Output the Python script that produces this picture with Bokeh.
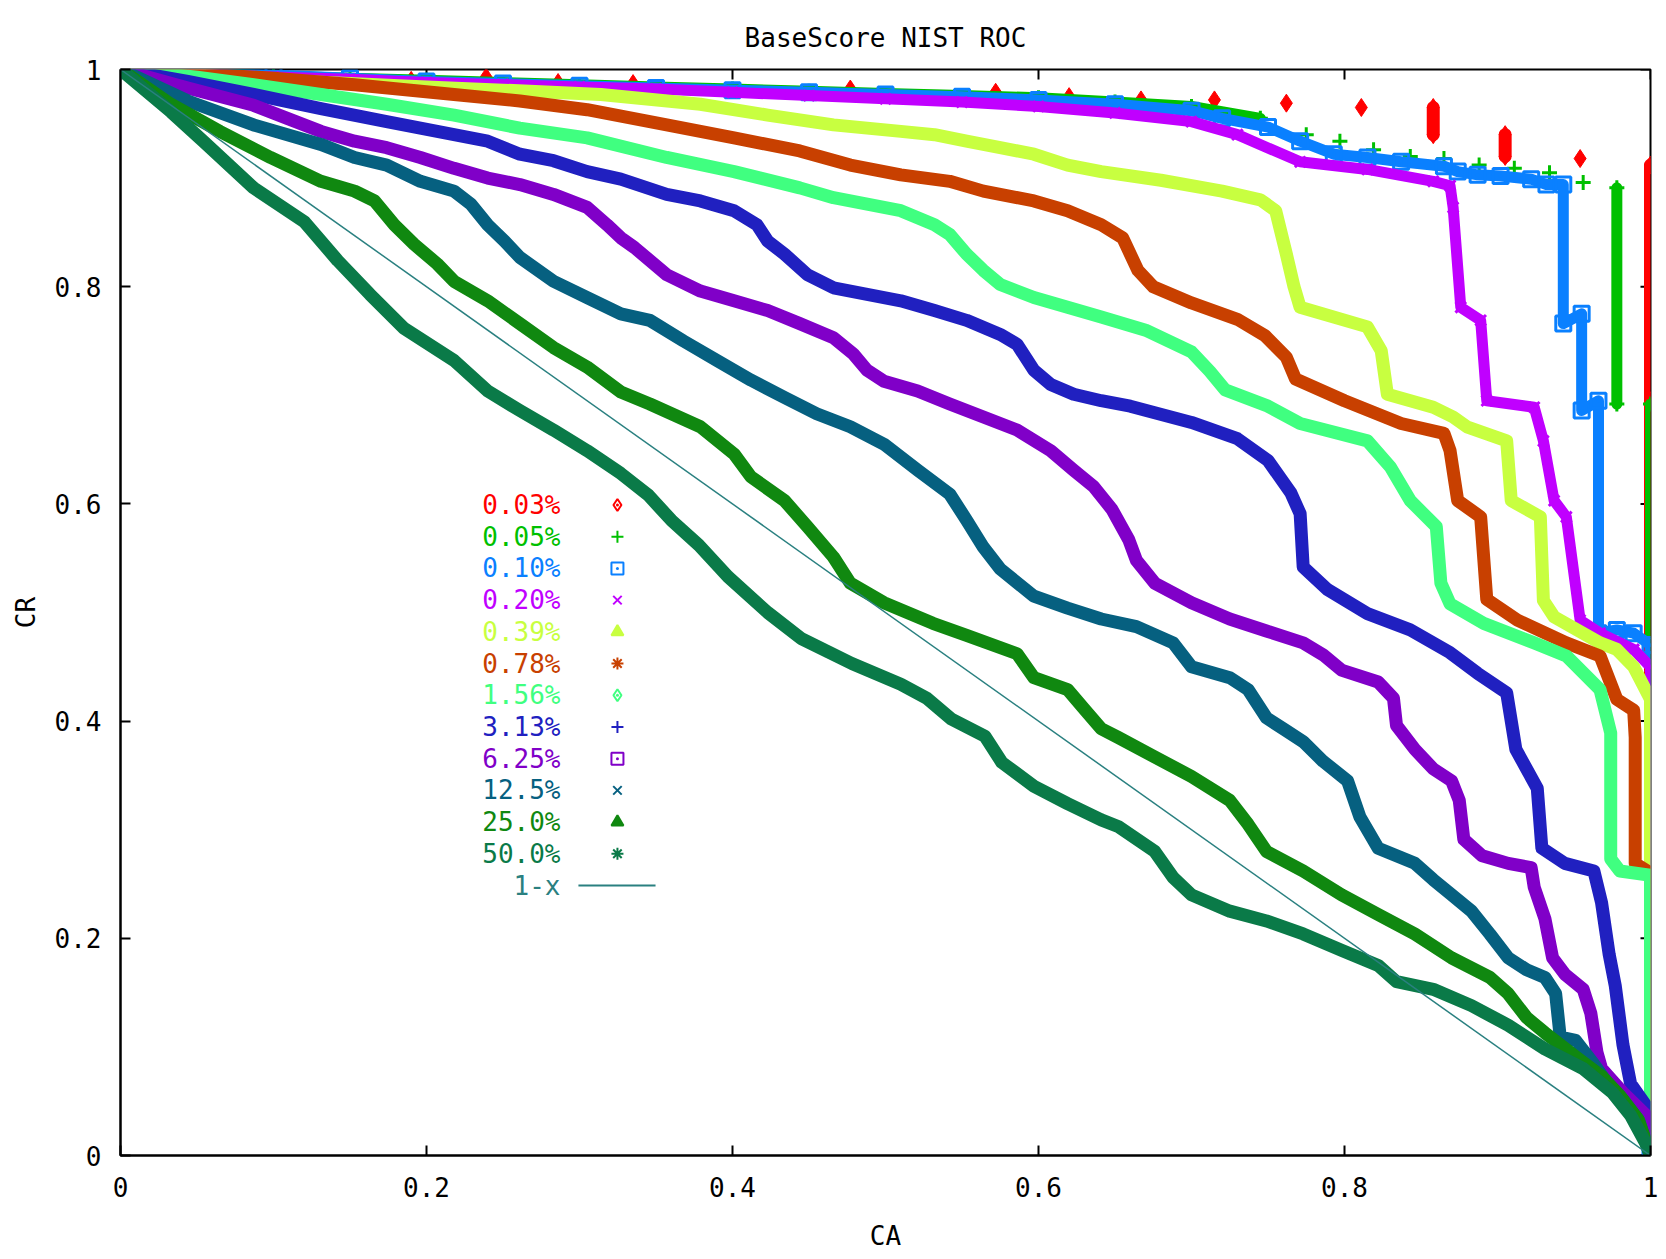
import math
from bokeh.plotting import figure
from bokeh.models import Range1d, FixedTicker, PrintfTickFormatter, Title
from bokeh.core.properties import value
from bokeh.embed import file_html
from bokeh.resources import INLINE

nan = float("nan")
FONT = "DejaVu Sans Mono"
FS = "26px"

TITLE = "BaseScore NIST ROC"
X_LABEL = "CA"
Y_LABEL = "CR"
TICKS = [0, 0.2, 0.4, 0.6, 0.8, 1.0]

SERIES = ["0.03%", "0.05%", "0.10%", "0.20%", "0.39%", "0.78%",
          "1.56%", "3.13%", "6.25%", "12.5%", "25.0%", "50.0%"]
COLORS = ["#ff0000", "#00c000", "#0a80ff", "#c000ff", "#c8ff40", "#c84000",
          "#40ff80", "#2020c0", "#8000c8", "#066080", "#108810", "#0a7a48"]
MARKERS = ["diamond_dot", "cross", "square_dot", "x", "triangle", "asterisk",
           "diamond_dot", "cross", "square_dot", "x", "triangle", "asterisk"]
LEGEND_FILLED = [0, 0, 0, 0, 1, 1, 0, 0, 0, 0, 1, 1]
DIAG_LABEL = "1-x"
DIAG_COLOR = "#2a8080"

# ---- data (CA, CR); nan = gap between isolated points ----
CA_003 = [0.0, nan, 0.19, nan, 0.239, nan, 0.286, nan, 0.335, nan, 0.477, nan, 0.572, nan,
          0.62, nan, 0.667, nan, 0.715, nan, 0.762, nan, 0.811, nan, 0.858, 0.858, nan,
          0.905, 0.905, nan, 0.954, nan, 1.0, 1.0, 1.0]
CR_003 = [1.0, nan, 0.990, nan, 0.993, nan, 0.988, nan, 0.987, nan, 0.982, nan, 0.979, nan,
          0.975, nan, 0.972, nan, 0.972, nan, 0.969, nan, 0.965, nan, 0.965, 0.940, nan,
          0.940, 0.920, nan, 0.918, nan, 0.912, 0.695, 0.0]

CA_005 = [0.0, 0.05, 0.1, 0.15, 0.2, 0.25, 0.3, 0.35, 0.4, 0.45, 0.5, 0.55, 0.6, 0.65, 0.7,
          0.745, nan, 0.775, nan, 0.797, nan, 0.819, nan, 0.843, nan, 0.865, nan, 0.888, nan,
          0.911, nan, 0.934, nan, 0.956, nan, 0.978, 0.978, nan, 1.0, 1.0]
CR_005 = [1.0, 0.997, 0.994, 0.992, 0.990, 0.988, 0.986, 0.984, 0.982, 0.980, 0.978, 0.976,
          0.974, 0.970, 0.966, 0.955, nan, 0.940, nan, 0.934, nan, 0.926, nan, 0.920, nan,
          0.918, nan, 0.912, nan, 0.909, nan, 0.905, nan, 0.896, nan, 0.891, 0.692, nan,
          0.692, 0.0]

CA_010 = [0.0, 0.05, 0.1, 0.15, 0.2, 0.25, 0.3, 0.35, 0.4, 0.45, 0.5, 0.55, 0.6, 0.65, 0.7,
          0.72, 0.75, 0.771, 0.793, 0.815, 0.837, 0.865, 0.874, 0.887, 0.902, 0.922, 0.932,
          0.943, 0.943, 0.955, 0.955, 0.966, 0.966, 0.978, 0.989, 1.0, 1.0]
CR_010 = [1.0, 0.997, 0.995, 0.992, 0.989, 0.987, 0.985, 0.983, 0.981, 0.979, 0.977, 0.975,
          0.972, 0.968, 0.962, 0.955, 0.947, 0.934, 0.922, 0.919, 0.915, 0.911, 0.906, 0.903,
          0.902, 0.899, 0.894, 0.894, 0.766, 0.775, 0.686, 0.695, 0.481, 0.484, 0.481, 0.47, 0.0]

CA_020 = [0.0, 0.05, 0.1, 0.15, 0.2, 0.25, 0.3, 0.35, 0.4, 0.45, 0.5, 0.55, 0.6, 0.65, 0.7,
          0.73, 0.771, 0.815, 0.858, 0.869, 0.871, 0.876, 0.889, 0.893, 0.924, 0.930, 0.937,
          0.945, 0.954, 0.967, 0.989, 1.0, 1.0]
CR_020 = [1.0, 0.996, 0.993, 0.991, 0.988, 0.986, 0.984, 0.982, 0.979, 0.976, 0.973, 0.970,
          0.966, 0.960, 0.952, 0.940, 0.915, 0.908, 0.897, 0.893, 0.873, 0.781, 0.769, 0.695,
          0.689, 0.658, 0.603, 0.588, 0.493, 0.481, 0.466, 0.45, 0.0]

CA_039 = [0.0, 0.05, 0.1, 0.15, 0.2, 0.25, 0.314, 0.379, 0.423, 0.466, 0.510, 0.532, 0.553,
          0.575, 0.597, 0.619, 0.641, 0.68, 0.72, 0.745, 0.755, 0.762, 0.767, 0.771, 0.815,
          0.824, 0.828, 0.858, 0.871, 0.880, 0.906, 0.909, 0.928, 0.930, 0.937, 0.952, 0.967,
          0.978, 0.989, 1.0, 1.0]
CR_039 = [1.0, 0.995, 0.990, 0.987, 0.984, 0.981, 0.977, 0.968, 0.958, 0.949, 0.943, 0.940,
          0.934, 0.928, 0.922, 0.912, 0.906, 0.898, 0.888, 0.880, 0.870, 0.830, 0.800, 0.781,
          0.763, 0.741, 0.701, 0.689, 0.680, 0.671, 0.658, 0.603, 0.588, 0.511, 0.496, 0.484,
          0.472, 0.466, 0.450, 0.42, 0.0]

CA_078 = [0.0, 0.05, 0.1, 0.153, 0.218, 0.261, 0.305, 0.357, 0.401, 0.444, 0.477, 0.510,
          0.542, 0.564, 0.597, 0.619, 0.641, 0.655, 0.665, 0.675, 0.70, 0.73, 0.748, 0.762,
          0.768, 0.800, 0.837, 0.865, 0.869, 0.874, 0.889, 0.893, 0.913, 0.945, 0.967, 0.978,
          0.989, 0.99, 0.99, 1.0, 1.0]
CR_078 = [1.0, 0.996, 0.992, 0.986, 0.977, 0.971, 0.963, 0.949, 0.937, 0.925, 0.912, 0.903,
          0.897, 0.888, 0.879, 0.870, 0.857, 0.845, 0.815, 0.800, 0.785, 0.770, 0.755, 0.735,
          0.715, 0.695, 0.674, 0.665, 0.649, 0.603, 0.588, 0.512, 0.493, 0.472, 0.460, 0.42,
          0.41, 0.385, 0.269, 0.26, 0.0]

CA_156 = [0.0, 0.05, 0.087, 0.131, 0.174, 0.218, 0.261, 0.305, 0.357, 0.401, 0.444, 0.466,
          0.488, 0.510, 0.532, 0.542, 0.553, 0.564, 0.575, 0.597, 0.619, 0.641, 0.67, 0.70,
          0.712, 0.722, 0.75, 0.771, 0.815, 0.830, 0.843, 0.860, 0.863, 0.869, 0.891, 0.924,
          0.945, 0.967, 0.974, 0.974, 0.980, 1.0, 1.0]
CR_156 = [1.0, 0.993, 0.986, 0.977, 0.968, 0.958, 0.946, 0.937, 0.919, 0.906, 0.891, 0.882,
          0.876, 0.870, 0.857, 0.848, 0.830, 0.815, 0.802, 0.790, 0.781, 0.772, 0.760, 0.740,
          0.722, 0.705, 0.690, 0.674, 0.658, 0.634, 0.603, 0.579, 0.527, 0.508, 0.490, 0.472,
          0.460, 0.429, 0.389, 0.273, 0.262, 0.258, 0.0]

CA_313 = [0.0, 0.044, 0.087, 0.131, 0.174, 0.218, 0.240, 0.261, 0.283, 0.305, 0.327, 0.357,
          0.379, 0.401, 0.416, 0.423, 0.434, 0.449, 0.466, 0.488, 0.510, 0.532, 0.553, 0.575,
          0.586, 0.597, 0.608, 0.623, 0.641, 0.66, 0.70, 0.73, 0.75, 0.765, 0.771, 0.773,
          0.789, 0.815, 0.843, 0.869, 0.887, 0.906, 0.912, 0.919, 0.926, 0.929, 0.944, 0.963,
          0.968, 0.973, 0.977, 0.982, 0.987, 1.0, 1.0]
CR_313 = [1.0, 0.989, 0.977, 0.964, 0.952, 0.940, 0.934, 0.922, 0.916, 0.906, 0.899, 0.885,
          0.879, 0.870, 0.857, 0.842, 0.830, 0.811, 0.799, 0.793, 0.787, 0.778, 0.769, 0.756,
          0.747, 0.723, 0.710, 0.701, 0.695, 0.690, 0.675, 0.660, 0.640, 0.610, 0.591, 0.542,
          0.521, 0.499, 0.484, 0.463, 0.444, 0.426, 0.374, 0.356, 0.338, 0.283, 0.269, 0.262,
          0.233, 0.185, 0.156, 0.102, 0.066, 0.040, 0.0]

CA_625 = [0.0, 0.044, 0.087, 0.109, 0.131, 0.153, 0.174, 0.196, 0.218, 0.240, 0.261, 0.283,
          0.305, 0.318, 0.327, 0.336, 0.357, 0.379, 0.401, 0.423, 0.444, 0.466, 0.479, 0.488,
          0.499, 0.521, 0.542, 0.564, 0.586, 0.608, 0.623, 0.636, 0.648, 0.659, 0.664, 0.676,
          0.700, 0.725, 0.749, 0.773, 0.786, 0.798, 0.822, 0.832, 0.834, 0.846, 0.858, 0.870,
          0.875, 0.878, 0.890, 0.907, 0.922, 0.924, 0.931, 0.936, 0.944, 0.956, 0.961, 0.965,
          0.968, 0.982, 0.992, 1.0, 1.0]
CR_625 = [1.0, 0.983, 0.967, 0.955, 0.943, 0.934, 0.928, 0.919, 0.909, 0.900, 0.894, 0.885,
          0.873, 0.857, 0.845, 0.836, 0.811, 0.796, 0.787, 0.778, 0.766, 0.753, 0.738, 0.723,
          0.713, 0.704, 0.692, 0.680, 0.668, 0.649, 0.631, 0.616, 0.595, 0.567, 0.548, 0.527,
          0.509, 0.494, 0.483, 0.472, 0.461, 0.447, 0.436, 0.421, 0.396, 0.374, 0.356, 0.345,
          0.327, 0.291, 0.276, 0.269, 0.265, 0.247, 0.218, 0.182, 0.167, 0.153, 0.131, 0.095,
          0.080, 0.058, 0.044, 0.033, 0.0]

CA_125 = [0.0, 0.044, 0.087, 0.131, 0.153, 0.174, 0.196, 0.218, 0.229, 0.240, 0.251, 0.261,
          0.283, 0.305, 0.327, 0.346, 0.368, 0.390, 0.412, 0.434, 0.455, 0.477, 0.499, 0.521,
          0.542, 0.553, 0.564, 0.575, 0.597, 0.619, 0.641, 0.664, 0.688, 0.700, 0.725, 0.737,
          0.749, 0.761, 0.773, 0.786, 0.802, 0.810, 0.822, 0.846, 0.858, 0.870, 0.883, 0.895,
          0.907, 0.919, 0.931, 0.938, 0.941, 0.951, 0.963, 0.972, 0.982, 0.992, 1.0]
CR_125 = [1.0, 0.971, 0.949, 0.931, 0.919, 0.912, 0.897, 0.888, 0.876, 0.857, 0.842, 0.827,
          0.805, 0.790, 0.775, 0.769, 0.750, 0.732, 0.714, 0.698, 0.683, 0.671, 0.655, 0.631,
          0.609, 0.585, 0.560, 0.540, 0.515, 0.504, 0.494, 0.487, 0.472, 0.450, 0.440, 0.429,
          0.403, 0.392, 0.381, 0.363, 0.345, 0.312, 0.283, 0.269, 0.254, 0.240, 0.225, 0.204,
          0.182, 0.171, 0.164, 0.149, 0.109, 0.106, 0.084, 0.066, 0.051, 0.033, 0.0]

CA_250 = [0.0, 0.033, 0.065, 0.098, 0.131, 0.153, 0.166, 0.179, 0.192, 0.207, 0.218, 0.240,
          0.261, 0.283, 0.305, 0.327, 0.346, 0.379, 0.401, 0.412, 0.434, 0.449, 0.466, 0.477,
          0.499, 0.531, 0.553, 0.586, 0.597, 0.619, 0.630, 0.641, 0.652, 0.676, 0.700, 0.725,
          0.737, 0.749, 0.773, 0.798, 0.822, 0.846, 0.870, 0.895, 0.907, 0.919, 0.931, 0.951,
          0.968, 0.980, 0.992, 1.0]
CR_250 = [1.0, 0.968, 0.943, 0.919, 0.897, 0.888, 0.879, 0.857, 0.839, 0.821, 0.805, 0.787,
          0.766, 0.744, 0.726, 0.703, 0.692, 0.671, 0.646, 0.625, 0.603, 0.579, 0.551, 0.527,
          0.509, 0.490, 0.479, 0.462, 0.440, 0.429, 0.411, 0.393, 0.385, 0.367, 0.349, 0.327,
          0.305, 0.280, 0.262, 0.240, 0.222, 0.204, 0.182, 0.164, 0.149, 0.127, 0.113, 0.091,
          0.073, 0.055, 0.033, 0.0]

CA_500 = [0.0, 0.033, 0.054, 0.087, 0.12, 0.142, 0.163, 0.185, 0.218, 0.240, 0.261, 0.283,
          0.305, 0.327, 0.345, 0.360, 0.378, 0.397, 0.423, 0.445, 0.478, 0.510, 0.527, 0.543,
          0.565, 0.576, 0.597, 0.619, 0.641, 0.652, 0.676, 0.688, 0.700, 0.725, 0.749, 0.773,
          0.798, 0.822, 0.834, 0.858, 0.883, 0.907, 0.931, 0.956, 0.975, 0.987, 0.997, 1.0]
CR_500 = [1.0, 0.961, 0.934, 0.891, 0.860, 0.824, 0.793, 0.762, 0.732, 0.704, 0.686, 0.668,
          0.649, 0.628, 0.608, 0.585, 0.562, 0.533, 0.500, 0.476, 0.453, 0.434, 0.421, 0.402,
          0.386, 0.362, 0.340, 0.324, 0.309, 0.303, 0.280, 0.256, 0.240, 0.225, 0.216, 0.204,
          0.189, 0.175, 0.160, 0.153, 0.138, 0.120, 0.098, 0.080, 0.058, 0.037, 0.011, 0.0]

CA_DIAG = [0.0, 1.0]
CR_DIAG = [1.0, 0.0]

CURVES = [(CA_003, CR_003), (CA_005, CR_005), (CA_010, CR_010), (CA_020, CR_020),
          (CA_039, CR_039), (CA_078, CR_078), (CA_156, CR_156), (CA_313, CR_313),
          (CA_625, CR_625), (CA_125, CR_125), (CA_250, CR_250), (CA_500, CR_500)]

# ---- legend layout (data-space anchor) ----
LEG_TEXT_X = 0.2876
LEG_MARK_X = 0.3248
LEG_LINE_X = (0.2993, 0.3497)
LEG_Y0 = 0.599
LEG_DY = 0.0292

p = figure(width=1658, height=1253, x_range=Range1d(0, 1), y_range=Range1d(0, 1),
           output_backend="svg", toolbar_location=None,
           min_border_left=120, min_border_right=8, min_border_top=69, min_border_bottom=96)
p.background_fill_color = "white"
p.border_fill_color = "white"
p.xgrid.visible = False
p.ygrid.visible = False
p.outline_line_color = "black"
p.outline_line_width = 2
p.title.visible = False

x_axis = p.below[0]
y_axis = p.left[0]

title = Title(text=TITLE, align="center", text_font=FONT, text_font_size=FS,
              text_font_style="normal", text_color="black", standoff=34)
p.add_layout(title, "above")


def style_axis(ax):
    ax.ticker = FixedTicker(ticks=TICKS, minor_ticks=[])
    ax.formatter = PrintfTickFormatter(format="%g")
    ax.major_tick_in = 10
    ax.major_tick_out = 0
    ax.minor_tick_in = 0
    ax.minor_tick_out = 0
    ax.major_tick_line_width = 2
    ax.major_tick_line_color = "black"
    ax.axis_line_color = "black"
    ax.axis_line_width = 2
    ax.major_label_text_font = FONT
    ax.major_label_text_font_size = FS
    ax.major_label_text_color = "black"
    ax.axis_label_text_font = FONT
    ax.axis_label_text_font_size = FS
    ax.axis_label_text_font_style = "normal"
    ax.axis_label_text_color = "black"


style_axis(x_axis)
style_axis(y_axis)
x_axis.axis_label = X_LABEL
y_axis.axis_label = Y_LABEL
x_axis.major_label_standoff = 21
x_axis.axis_label_standoff = 21
y_axis.major_label_standoff = 19
y_axis.axis_label_standoff = 11

# mirrored inward ticks on the top and right borders (gnuplot style)
p.ray(x=TICKS, y=[1.0] * len(TICKS), length=10, length_units="screen",
      angle=-math.pi / 2, line_color="black", line_width=2)
p.ray(x=[1.0] * len(TICKS), y=TICKS, length=10, length_units="screen",
      angle=math.pi, line_color="black", line_width=2)

# ---- series ----
for i, (xs, ys) in enumerate(CURVES):
    c = COLORS[i]
    if i == 0:
        p.line(xs, ys, line_color=c, line_width=13, line_join="round", line_cap="round")
        p.scatter(xs, ys, marker="diamond", size=18, line_color=c, fill_color=c)
    elif i < 4:
        p.line(xs, ys, line_color=c, line_width=11, line_join="round", line_cap="round")
        p.scatter(xs, ys, marker=MARKERS[i], size=15, line_color=c, fill_color=None,
                  line_width=3)
    else:
        p.line(xs, ys, line_color=c, line_width=13, line_join="round", line_cap="round")

p.line(CA_DIAG, CR_DIAG, line_color=DIAG_COLOR, line_width=1.5)

# ---- legend (gnuplot style: label, then sample) ----
n = len(SERIES)
leg_y = [LEG_Y0 - k * LEG_DY for k in range(n + 1)]
p.text(x=[LEG_TEXT_X] * (n + 1), y=leg_y, text=SERIES + [DIAG_LABEL],
       text_align="right", text_baseline="middle",
       text_color=COLORS + [DIAG_COLOR], text_font=value(FONT), text_font_size=value(FS))
p.scatter(x=[LEG_MARK_X] * n, y=leg_y[:n], marker=MARKERS, size=12,
          line_color=COLORS, fill_color=COLORS, fill_alpha=LEGEND_FILLED, line_width=2)
p.line(list(LEG_LINE_X), [leg_y[n]] * 2, line_color=DIAG_COLOR, line_width=2)

open("out.html", "w").write(file_html(p, INLINE))
